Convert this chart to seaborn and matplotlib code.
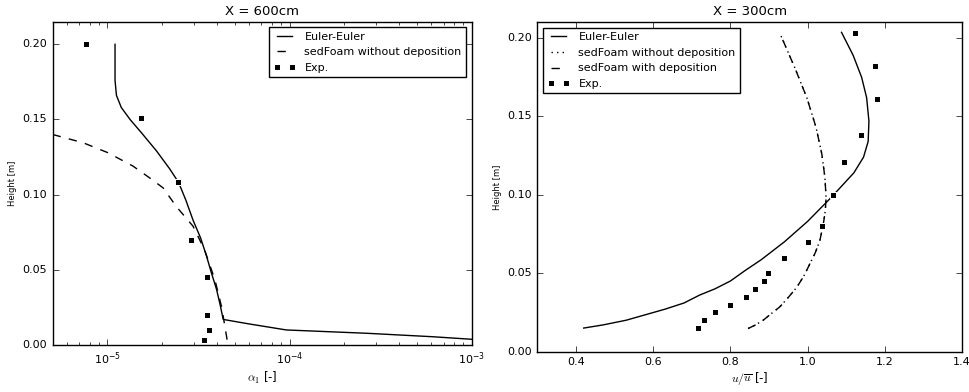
import matplotlib
matplotlib.use('Agg')
import matplotlib.pyplot as plt
import seaborn as sns

# old matplotlib look, as in the reference
plt.style.use('classic')
plt.rcParams['figure.facecolor'] = 'white'
plt.rcParams['savefig.facecolor'] = 'white'
plt.rcParams['font.family'] = ['DejaVu Sans']
plt.rcParams['font.size'] = 8

# ---- X = 600cm : concentration profiles ----
ee_alpha = [1.10e-5, 1.10e-5, 1.12e-5, 1.19e-5, 1.33e-5, 1.54e-5, 1.86e-5, 2.20e-5, 2.46e-5,
            2.70e-5, 2.95e-5, 3.25e-5, 3.50e-5, 3.72e-5, 3.97e-5, 4.15e-5, 4.32e-5,
            6.0e-5, 9.6e-5, 2.65e-4, 6.1e-4, 1.0e-3]
ee_h600 = [0.200, 0.176, 0.166, 0.158, 0.150, 0.141, 0.129, 0.117, 0.108,
           0.096, 0.083, 0.071, 0.059, 0.048, 0.037, 0.027, 0.017,
           0.014, 0.010, 0.0078, 0.0055, 0.0038]

sf_alpha = [5.0e-6, 7.35e-6, 1.0e-5, 1.38e-5, 1.71e-5, 2.02e-5, 2.39e-5, 2.95e-5,
            3.42e-5, 3.89e-5, 4.23e-5, 4.51e-5, 4.56e-5]
sf_h600 = [0.140, 0.1345, 0.128, 0.119, 0.111, 0.1045, 0.092, 0.079,
           0.063, 0.0433, 0.0255, 0.0055, 0.0015]

exp_alpha = [7.6e-6, 1.52e-5, 2.45e-5, 2.88e-5, 3.54e-5, 3.51e-5, 3.62e-5, 3.38e-5]
exp_h600 = [0.200, 0.151, 0.1085, 0.070, 0.045, 0.020, 0.010, 0.003]

# ---- X = 300cm : velocity profiles ----
ee_u = [0.42, 0.47, 0.53, 0.58, 0.63, 0.68, 0.72, 0.76, 0.80, 0.84, 0.88, 0.94, 1.00,
        1.06, 1.09, 1.12, 1.145, 1.157, 1.159, 1.153, 1.14, 1.118, 1.088]
ee_h300 = [0.015, 0.017, 0.020, 0.0235, 0.027, 0.031, 0.036, 0.040, 0.045, 0.052, 0.0586,
           0.070, 0.083, 0.098, 0.106, 0.114, 0.124, 0.134, 0.147, 0.162, 0.175, 0.189, 0.2036]

sf_u = [0.846, 0.865, 0.885, 0.905, 0.928, 0.950, 0.972, 0.990, 1.006, 1.020, 1.032,
        1.041, 1.046, 1.048, 1.045, 1.037, 1.022, 0.998, 0.967, 0.930]
sf_h300 = [0.0147, 0.017, 0.020, 0.024, 0.0285, 0.0345, 0.041, 0.048, 0.056, 0.063, 0.071,
           0.0815, 0.090, 0.098, 0.111, 0.126, 0.143, 0.162, 0.181, 0.202]

exp_u = [0.717, 0.731, 0.761, 0.799, 0.840, 0.864, 0.888, 0.897, 0.938,
         1.001, 1.037, 1.066, 1.095, 1.139, 1.179, 1.175, 1.123]
exp_h300 = [0.015, 0.020, 0.025, 0.030, 0.035, 0.040, 0.045, 0.050, 0.060,
            0.070, 0.080, 0.100, 0.121, 0.138, 0.161, 0.182, 0.203]

fig = plt.figure(figsize=(9.7, 3.92), dpi=100)
ax1 = fig.add_axes([0.0543, 0.1199, 0.432, 0.8247])
ax2 = fig.add_axes([0.554, 0.1031, 0.4377, 0.840])

# left panel
ax1.set_xscale('log')
sns.lineplot(x=ee_alpha, y=ee_h600, sort=False, estimator=None, color='k', lw=1,
             label='Euler-Euler', ax=ax1)
sns.lineplot(x=sf_alpha, y=sf_h600, sort=False, estimator=None, color='k', lw=1,
             linestyle='--', label='sedFoam without deposition', ax=ax1)
sns.lineplot(x=exp_alpha, y=exp_h600, sort=False, estimator=None, color='k',
             linestyle='none', marker='s', markersize=4.5, label='Exp.', ax=ax1)
ax1.set_xlim(5e-6, 1e-3)
ax1.set_ylim(0, 0.215)
ax1.set_yticks([0.0, 0.05, 0.10, 0.15, 0.20])
ax1.set_title('X = 600cm', fontsize=9.5)
ax1.set_xlabel(r'$\alpha_1$ [-]', fontsize=8.5, labelpad=2)
ax1.set_ylabel('Height [m]', fontsize=6, labelpad=4)
ax1.legend(loc='upper right', numpoints=2, fontsize=8)

# right panel
sns.lineplot(x=ee_u, y=ee_h300, sort=False, estimator=None, color='k', lw=1,
             label='Euler-Euler', ax=ax2)
sns.lineplot(x=sf_u, y=sf_h300, sort=False, estimator=None, color='k', lw=1,
             linestyle=':', label='sedFoam without deposition', ax=ax2)
sns.lineplot(x=sf_u, y=sf_h300, sort=False, estimator=None, color='k', lw=1,
             linestyle='--', label='sedFoam with deposition', ax=ax2)
sns.lineplot(x=exp_u, y=exp_h300, sort=False, estimator=None, color='k',
             linestyle='none', marker='s', markersize=4.5, label='Exp.', ax=ax2)
ax2.set_xlim(0.3, 1.4)
ax2.set_ylim(0, 0.21)
ax2.set_yticks([0.0, 0.05, 0.10, 0.15, 0.20])
ax2.set_title('X = 300cm', fontsize=9.5)
ax2.set_xlabel(r'$u/\overline{u}$ [-]', fontsize=8.5, labelpad=2)
ax2.set_ylabel('Height [m]', fontsize=6, labelpad=4)
ax2.legend(loc='upper left', numpoints=2, fontsize=8)

for ax in (ax1, ax2):
    ax.tick_params(labelsize=8)

fig.savefig('out.png', dpi=100)
